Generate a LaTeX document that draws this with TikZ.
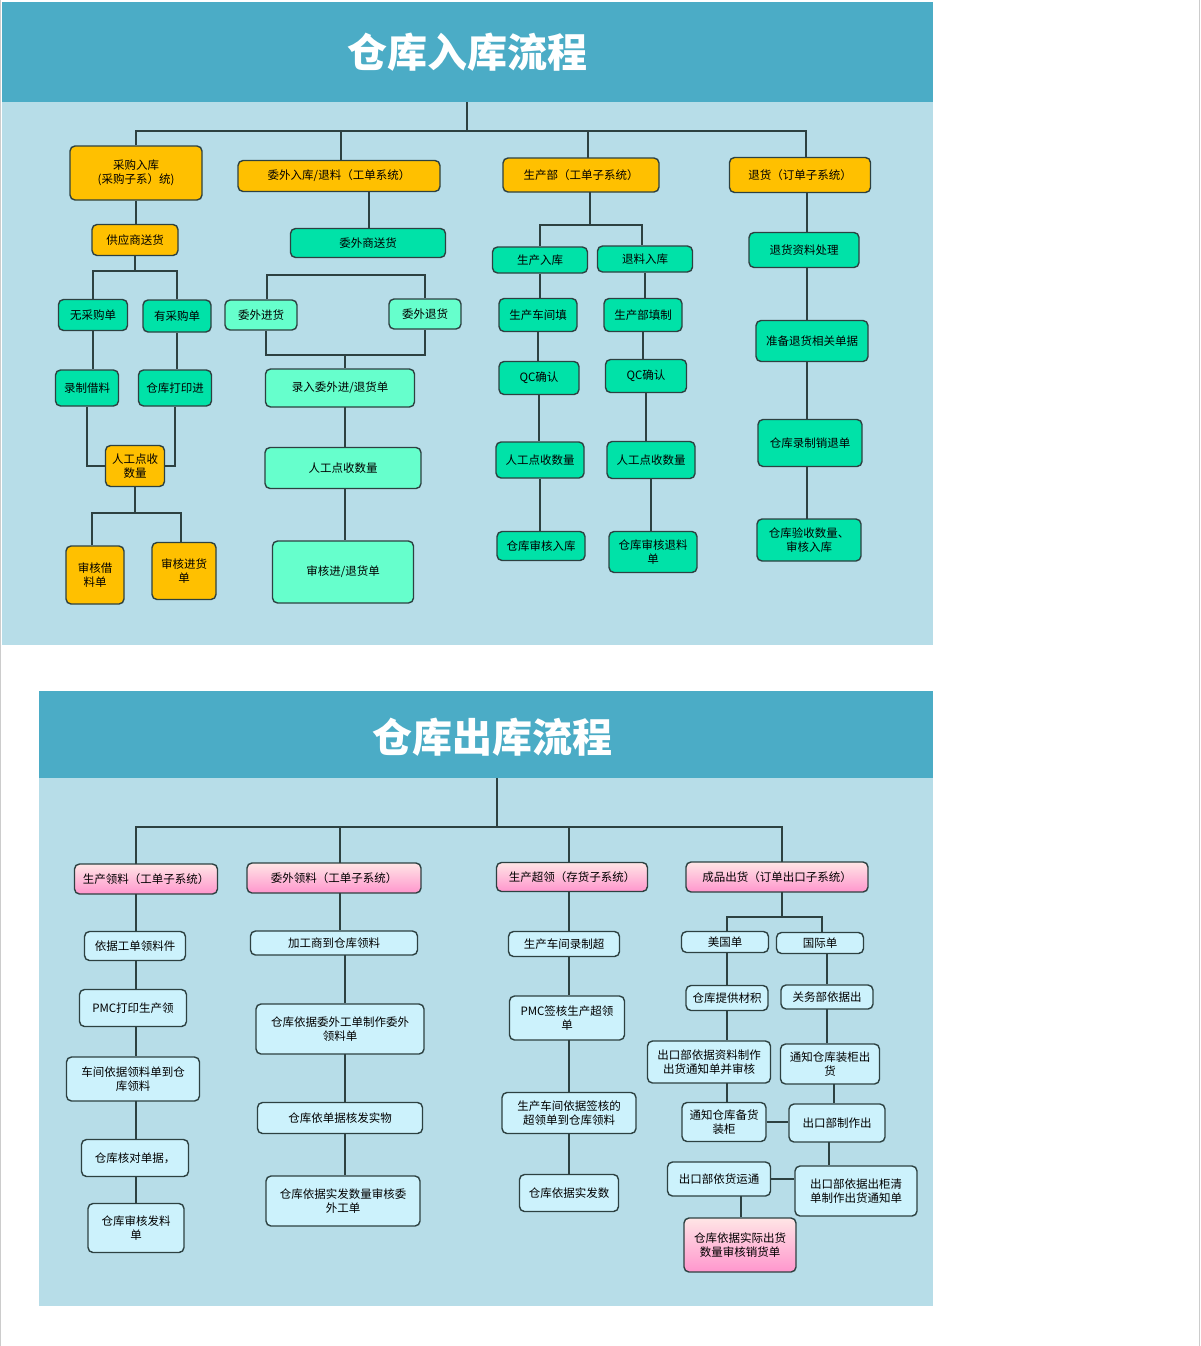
\documentclass[tikz,border=0pt]{standalone}
\usepackage{fontspec}
\setmainfont{Noto Sans CJK SC}
\usetikzlibrary{calc}
\definecolor{hdr}{RGB}{75,172,198}
\definecolor{bg}{RGB}{183,221,232}
\definecolor{org}{RGB}{255,192,0}
\definecolor{grn}{RGB}{0,226,168}
\definecolor{lgr}{RGB}{102,255,204}
\definecolor{cyn}{RGB}{204,242,252}
\definecolor{bd}{RGB}{45,65,65}
\begin{document}
\begin{tikzpicture}[x=1pt,y=-1pt,
  box/.style={draw=bd,line width=1.4pt,rounded corners=5pt,align=center,inner sep=1pt,font=\fontsize{11.5}{13.5}\selectfont},
  o/.style={box,fill=org},
  g/.style={box,fill=grn},
  l/.style={box,fill=lgr},
  c/.style={box,fill=cyn},
  p/.style={box,top color=pink!40,bottom color={rgb,255:red,255;green,150;blue,205}},
  ln/.style={draw=bd,line width=1.2pt},
  ttl/.style={text=white,font=\fontsize{40}{44}\bfseries\selectfont}]
\useasboundingbox (0,0) rectangle (1200,1346);
\fill[white] (0,0) rectangle (1200,1346);
\draw[gray!40] (0.5,0) -- (0.5,1346) (1199.5,0) -- (1199.5,1346);
% panels
\fill[bg] (2,2) rectangle (933,645);
\fill[hdr] (2,2) rectangle (933,102);
\node[ttl] (t1) at (467,52) {仓库入库流程};
\fill[bg] (39,691) rectangle (933,1306);
\fill[hdr] (39,691) rectangle (933,778);
\node[ttl] (t2) at (492,737) {仓库出库流程};
\newcommand\bx[7]{\node[#6,minimum width=#4pt,minimum height=#5pt] (#1) at (#2,#3) {#7};}
\newcommand\vl[2]{\draw[ln] (#1.south) -- (#1.south |- #2.north);}
% ---------- top ----------
\bx{A1}{136}{173}{132}{54}{o}{采购入库\\(采购子系）统)}
\bx{A2}{339}{176}{202}{31}{o}{委外入库/退料（工单系统）}
\bx{A3}{581}{175}{156}{34}{o}{生产部（工单子系统）}
\bx{A4}{800}{175}{141}{35}{o}{退货（订单子系统）}
\coordinate (r1) at (467,102);
\coordinate (y131) at (0,131);
\draw[ln] (r1) -- (r1 |- y131);
\draw[ln] (A1.north) -- (A1.north |- y131) -- (806,131) -- (806,157);
\draw[ln] (341,131) -- (341,161);
\draw[ln] (588,131) -- (588,158);
\bx{B1}{135}{240}{86}{31}{o}{供应商送货}
\bx{C1}{93}{315}{69}{31}{g}{无采购单}
\bx{C2}{177}{316}{68}{32}{g}{有采购单}
\bx{D1}{87}{388}{63}{36}{g}{录制借料}
\bx{D2}{175}{388}{73}{36}{g}{仓库打印进}
\bx{E1}{135}{466}{59}{41}{o}{人工点收\\数量}
\bx{F1}{95}{575}{58}{58}{o}{审核借\\料单}
\bx{F2}{184}{571}{64}{57}{o}{审核进货\\单}
\vl{A1}{B1}
\coordinate (y271) at (0,271);
\draw[ln] (B1.south) -- (B1.south |- y271);
\draw[ln] (C1.north) -- (C1.north |- y271) -- (C2.north |- y271) -- (C2.north);
\vl{C1}{D1} \vl{C2}{D2}
\draw[ln] (D1.south) |- (E1.west);
\draw[ln] (D2.south) |- (E1.east);
\coordinate (y513) at (0,513);
\draw[ln] (E1.south) -- (E1.south |- y513);
\draw[ln] (F1.north -| 92,0) -- (92,513) -- (181,513) -- (F2.north -| 181,0);
\bx{B2}{368}{243}{155}{29}{g}{委外商送货}
\bx{C3}{261}{315}{72}{30}{l}{委外进货}
\bx{C4}{425}{314}{72}{30}{l}{委外退货}
\bx{D3}{340}{388}{149}{38}{l}{录入委外进/退货单}
\bx{E3}{343}{468}{156}{41}{l}{人工点收数量}
\bx{F3}{343}{572}{141}{62}{l}{审核进/退货单}
\draw[ln] (369,192) -- (369,228);
\coordinate (y275) at (0,275);
\coordinate (y355) at (0,355);
\draw[ln] (C3.north -| 267,0) -- (267,275) -- (425,275) -- (C4.north);
\draw[ln] (C3.south -| 266,0) -- (266,355) -- (425,355) -- (C4.south);
\draw[ln] (345,355) -- (D3.north -| 345,0);
\draw[ln] (345,407) -- (E3.north -| 345,0);
\draw[ln] (345,488) -- (F3.north -| 345,0);
\bx{C5}{540}{260}{95}{26}{g}{生产入库}
\bx{C6}{645}{259}{95}{26}{g}{退料入库}
\bx{D5}{538}{315}{78}{33}{g}{生产车间填}
\bx{D6}{643}{315}{78}{33}{g}{生产部填制}
\bx{E5}{539}{378}{80}{33}{g}{QC确认}
\bx{E6}{646}{376}{81}{33}{g}{QC确认}
\bx{F5}{540}{460}{88}{36}{g}{人工点收数量}
\bx{F6}{651}{460}{88}{37}{g}{人工点收数量}
\bx{G5}{541}{546}{88}{29}{g}{仓库审核入库}
\bx{G6}{653}{552}{88}{41}{g}{仓库审核退料\\单}
\draw[ln] (590,192) -- (590,225);
\draw[ln] (C5.north) -- (540,225) -- (642,225) -- (C6.north -| 642,0);
\vl{C5}{D5} \vl{C6}{D6} \vl{D5}{E5} \vl{D6}{E6} \vl{E5}{F5} \vl{E6}{F6} \vl{F5}{G5} \vl{F6}{G6}
\bx{C7}{804}{250}{110}{35}{g}{退货资料处理}
\bx{D7}{812}{341}{112}{41}{g}{准备退货相关单据}
\bx{E7}{810}{443}{104}{47}{g}{仓库录制销退单}
\bx{F7}{809}{540}{104}{42}{g}{仓库验收数量、\\审核入库}
\draw[ln] (807,192) -- (807,232);
\draw[ln] (807,267) -- (807,321);
\draw[ln] (807,362) -- (807,419);
\draw[ln] (807,466) -- (807,519);
% ---------- bottom ----------
\bx{H1}{146}{879}{143}{30}{p}{生产领料（工单子系统）}
\bx{H2}{334}{878}{174}{30}{p}{委外领料（工单子系统）}
\bx{H3}{572}{877}{151}{29}{p}{生产超领（存货子系统）}
\bx{H4}{777}{877}{182}{30}{p}{成品出货（订单出口子系统）}
\coordinate (r2) at (497,778);
\draw[ln] (r2) -- (497,827);
\draw[ln] (136,864) -- (136,827) -- (782,827) -- (782,862);
\draw[ln] (340,827) -- (340,863);
\draw[ln] (569,827) -- (569,863);
\bx{I1}{135}{946}{101}{29}{c}{依据工单领料件}
\bx{I2}{133}{1008}{107}{37}{c}{PMC打印生产领}
\bx{I3}{133}{1079}{133}{44}{c}{车间依据领料单到仓\\库领料}
\bx{I4}{135}{1158}{107}{37}{c}{仓库核对单据，}
\bx{I5}{136}{1228}{96}{49}{c}{仓库审核发料\\单}
\draw[ln] (136,894) -- (I1.north -| 136,0);
\draw[ln] (136,960) -- (I2.north -| 136,0);
\draw[ln] (136,1027) -- (I3.north -| 136,0);
\draw[ln] (136,1101) -- (I4.north -| 136,0);
\draw[ln] (136,1177) -- (I5.north -| 136,0);
\bx{J1}{334}{943}{167}{24}{c}{加工商到仓库领料}
\bx{J2}{340}{1029}{168}{50}{c}{仓库依据委外工单制作委外\\领料单}
\bx{J3}{340}{1118}{165}{31}{c}{仓库依单据核发实物}
\bx{J4}{343}{1201}{154}{50}{c}{仓库依据实发数量审核委\\外工单}
\draw[ln] (340,893) -- (J1.north -| 340,0);
\draw[ln] (345,955) -- (J2.north -| 345,0);
\draw[ln] (345,1054) -- (J3.north -| 345,0);
\draw[ln] (345,1134) -- (J4.north -| 345,0);
\bx{K1}{564}{944}{111}{25}{c}{生产车间录制超}
\bx{K2}{567}{1018}{115}{44}{c}{PMC签核生产超领\\单}
\bx{K3}{569}{1113}{134}{41}{c}{生产车间依据签核的\\超领单到仓库领料}
\bx{K4}{569}{1193}{99}{37}{c}{仓库依据实发数}
\draw[ln] (569,892) -- (K1.north -| 569,0);
\draw[ln] (569,957) -- (K2.north -| 569,0);
\draw[ln] (569,1040) -- (K3.north -| 569,0);
\draw[ln] (569,1134) -- (K4.north -| 569,0);
\bx{L1}{725}{942}{87}{21}{c}{美国单}
\bx{L2}{820}{943}{87}{21}{c}{国际单}
\bx{M1}{727}{998}{82}{25}{c}{仓库提供材积}
\bx{M2}{827}{997}{92}{24}{c}{关务部依据出}
\bx{N1}{709}{1062}{123}{42}{c}{出口部依据资料制作\\出货通知单并审核}
\bx{N2}{830}{1064}{99}{40}{c}{通知仓库装柜出\\货}
\bx{O1}{724}{1122}{84}{39}{c}{通知仓库备货\\装柜}
\bx{O2}{837}{1123}{96}{38}{c}{出口部制作出}
\bx{P1}{719}{1179}{103}{34}{c}{出口部依货运通}
\bx{P2}{856}{1191}{122}{50}{c}{出口部依据出柜清\\单制作出货通知单}
\bx{Q1}{740}{1245}{112}{54}{p}{仓库依据实际出货\\数量审核销货单}
\draw[ln] (782,892) -- (782,917);
\draw[ln] (727,932) -- (727,917) -- (822,917) -- (822,932);
\draw[ln] (727,953) -- (M1.north -| 727,0);
\draw[ln] (827,954) -- (M2.north -| 827,0);
\draw[ln] (727,1011) -- (N1.north -| 727,0);
\draw[ln] (827,1009) -- (N2.north -| 827,0);
\draw[ln] (727,1083) -- (O1.north -| 727,0);
\draw[ln] (834,1084) -- (O2.north -| 834,0);
\draw[ln] (O1.east) -- (O2.west |- O1.east);
\draw[ln] (829,1142) -- (P2.north -| 829,0);
\draw[ln] (P1.east) -- (P2.west |- P1.east);
\draw[ln] (741,1196) -- (Q1.north -| 741,0);
\end{tikzpicture}
\end{document}
